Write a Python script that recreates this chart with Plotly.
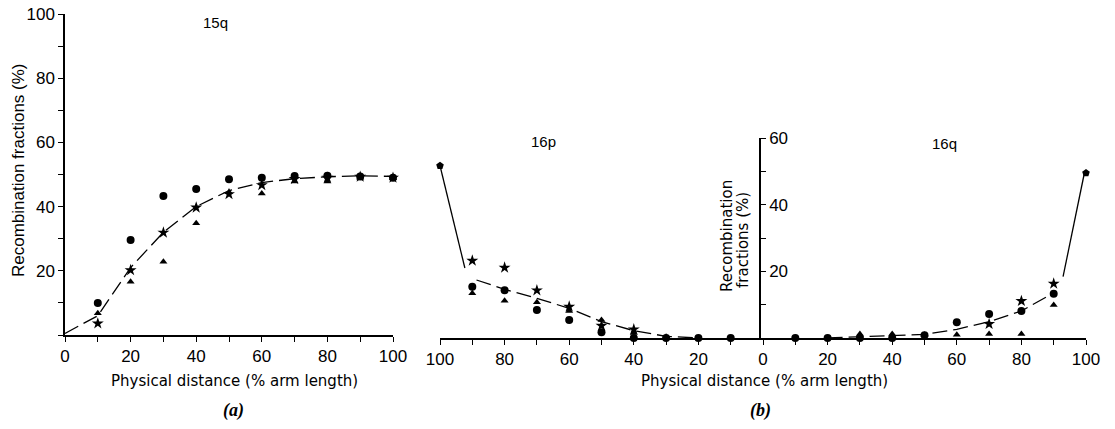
import plotly.graph_objects as go

W, H = 1115, 429

# ---------------- Panel (a): 15q ----------------
x_a = [10, 20, 30, 40, 50, 60, 70, 80, 90, 100]
circle_a = [10.0, 29.6, 43.3, 45.5, 48.5, 49.0, 49.5, 49.6, 49.4, 49.0]
x_tri_a = [10, 20, 30, 40, 50, 60, 70, 80, 90, 100]
triangle_a = [6.8, 16.6, 22.8, 34.8, 44.5, 44.1, 47.8, 47.8, 49.0, 48.8]
x_star_a = [10, 20, 30, 40, 50, 60, 70, 80, 90, 100]
star_a = [3.6, 20.2, 31.9, 39.7, 43.9, 46.7, 48.6, 49.0, 49.3, 49.0]
fit_x_a = [0, 10, 20, 30, 40, 50, 60, 70, 80, 90, 100]
fit_a = [0.5, 6.0, 21.0, 32.0, 40.0, 45.0, 47.5, 48.7, 49.3, 49.6, 49.4]

# ---------------- Panel (b): 16p (negative side) / 16q (positive side) ----------------
x_circ_p = [-90, -80, -70, -60, -50, -40, -30, -20, -10]
circle_p = [15.4, 14.3, 8.4, 5.4, 1.7, 0.0, 0.0, 0.0, 0.0]
x_tri_p = [-90, -80, -70, -60, -50, -40, -30]
triangle_p = [13.4, 11.2, 10.7, 8.1, 5.4, 1.5, 0.4]
x_star_p = [-90, -80, -70, -60, -50, -40]
star_p = [23.2, 21.1, 14.3, 9.4, 3.7, 2.6]
fit_x_p = [-88.7, -80, -70, -60, -50, -40, -30, -20]
fit_p = [17.4, 14.6, 11.9, 8.9, 4.9, 2.2, 0.5, 0.0]
end_x_p = [-100, -92.3]
end_p = [51.7, 21.0]

x_circ_q = [10, 20, 30, 40, 50, 60, 70, 80, 90]
circle_q = [0.0, 0.0, 0.0, 0.0, 0.8, 4.7, 7.2, 8.1, 13.3]
x_tri_q = [30, 40, 50, 60, 70, 80, 90]
triangle_q = [1.2, 1.2, 1.0, 1.0, 1.2, 1.2, 9.9]
x_star_q = [70, 80, 90]
star_q = [4.2, 11.1, 16.3]
fit_x_q = [20, 30, 40, 50, 60, 70, 80, 88.8]
fit_q = [0.0, 0.4, 0.8, 1.1, 2.6, 4.9, 8.1, 12.9]
end_x_q = [99.5, 92.9]
end_q = [49.5, 18.4]

pent_x = [-100, 100]
pent_y = [51.7, 49.5]

# tick labels
tick_a_vals = [0, 20, 40, 60, 80, 100]
tick_a_text = ["0", "20", "40", "60", "80", "100"]
ytick_a_vals = [20, 40, 60, 80, 100]
tick_b_vals = [-100, -80, -60, -40, -20, 0, 20, 40, 60, 80, 100]
tick_b_text = ["100", "80", "60", "40", "20", "0", "20", "40", "60", "80", "100"]
ytick_b_vals = [20, 40, 60]

FONT = "Liberation Sans"
TFONT = "DejaVu Sans"
BLK = "black"

fig = go.Figure()

def mk(x, y, sym, size, xa, ya):
    fig.add_trace(go.Scatter(x=x, y=y, mode="markers", xaxis=xa, yaxis=ya,
                             marker=dict(symbol=sym, size=size, color=BLK, line=dict(width=0)),
                             cliponaxis=False, showlegend=False, hoverinfo="skip"))

def ln(x, y, dash, xa, ya):
    fig.add_trace(go.Scatter(x=x, y=y, mode="lines", xaxis=xa, yaxis=ya,
                             line=dict(color=BLK, width=1.3, dash=dash),
                             cliponaxis=False, showlegend=False, hoverinfo="skip"))

# panel a
ln(fit_x_a, fit_a, "15px,6px", "x", "y")
mk(x_a, circle_a, "circle", 8, "x", "y")
mk(x_tri_a, triangle_a, "triangle-up", 7, "x", "y")
mk(x_star_a, star_a, "star", 9, "x", "y")

# panel b
ln(fit_x_p, fit_p, "15px,6px", "x2", "y2")
ln(fit_x_q, fit_q, "15px,6px", "x2", "y2")
ln(end_x_p, end_p, "solid", "x2", "y2")
ln(end_x_q, end_q, "solid", "x2", "y2")
mk(x_circ_p, circle_p, "circle", 8, "x2", "y2")
mk(x_tri_p, triangle_p, "triangle-up", 7, "x2", "y2")
mk(x_star_p, star_p, "star", 9, "x2", "y2")
mk(x_circ_q, circle_q, "circle", 8, "x2", "y2")
mk(x_tri_q, triangle_q, "triangle-up", 7, "x2", "y2")
mk(x_star_q, star_q, "star", 9, "x2", "y2")
mk(pent_x, pent_y, "pentagon", 8, "x2", "y2")

def px(x):
    return x / W

def py(y):
    return (H - y) / H

tickfont = dict(family=FONT, size=17, color=BLK)
axcommon = dict(showgrid=False, zeroline=False, showline=True, linecolor=BLK, linewidth=1.5,
                ticks="outside", ticklen=5, tickwidth=1.2, tickcolor=BLK, tickfont=tickfont,
                automargin=False)
minor = dict(dtick=10, ticks="outside", ticklen=5, tickcolor=BLK, tickwidth=1.2)

fig.update_layout(
    width=W, height=H, autosize=False,
    margin=dict(l=0, r=0, t=0, b=0, pad=0, autoexpand=False),
    paper_bgcolor="white", plot_bgcolor="rgba(0,0,0,0)",
    xaxis=dict(domain=[px(65), px(393)], range=[0, 100], anchor="y",
               tickmode="array", tickvals=tick_a_vals, ticktext=tick_a_text,
               minor=minor, **axcommon),
    yaxis=dict(domain=[py(335), py(14)], range=[0, 100], anchor="x",
               tickmode="array", tickvals=ytick_a_vals,
               minor=minor, **axcommon),
    xaxis2=dict(domain=[px(440), px(1086)], range=[-100, 100], anchor="y2",
                tickmode="array", tickvals=tick_b_vals, ticktext=tick_b_text,
                minor=minor, **axcommon),
    yaxis2=dict(domain=[py(338), py(138)], range=[0, 60], anchor="free", position=px(760),
                side="right", tickmode="array", tickvals=ytick_b_vals,
                minor=minor, **axcommon),
)

def note(text, x, y, size, family=FONT, angle=0):
    fig.add_annotation(text=text, x=px(x), y=py(y), xref="paper", yref="paper",
                       showarrow=False, xanchor="center", yanchor="middle", textangle=angle,
                       font=dict(family=family, size=size, color=BLK))

note("15q", 215, 23, 15)
note("16p", 543, 141, 15)
note("16q", 944, 143, 15)
note("Physical distance (% arm length)", 234, 381, 15, TFONT)
note("Physical distance (% arm length)", 764, 381, 15, TFONT)
note("Recombination fractions (%)", 18, 170, 17, FONT, -90)
note("Recombination", 727, 236, 15, TFONT, -90)
note("fractions (%)", 743, 240, 15, TFONT, -90)
note("<b><i>(a)</i></b>", 233, 410, 18, "Liberation Serif")
note("<b><i>(b)</i></b>", 760, 410, 18, "Liberation Serif")

fig.write_html("out.html")
